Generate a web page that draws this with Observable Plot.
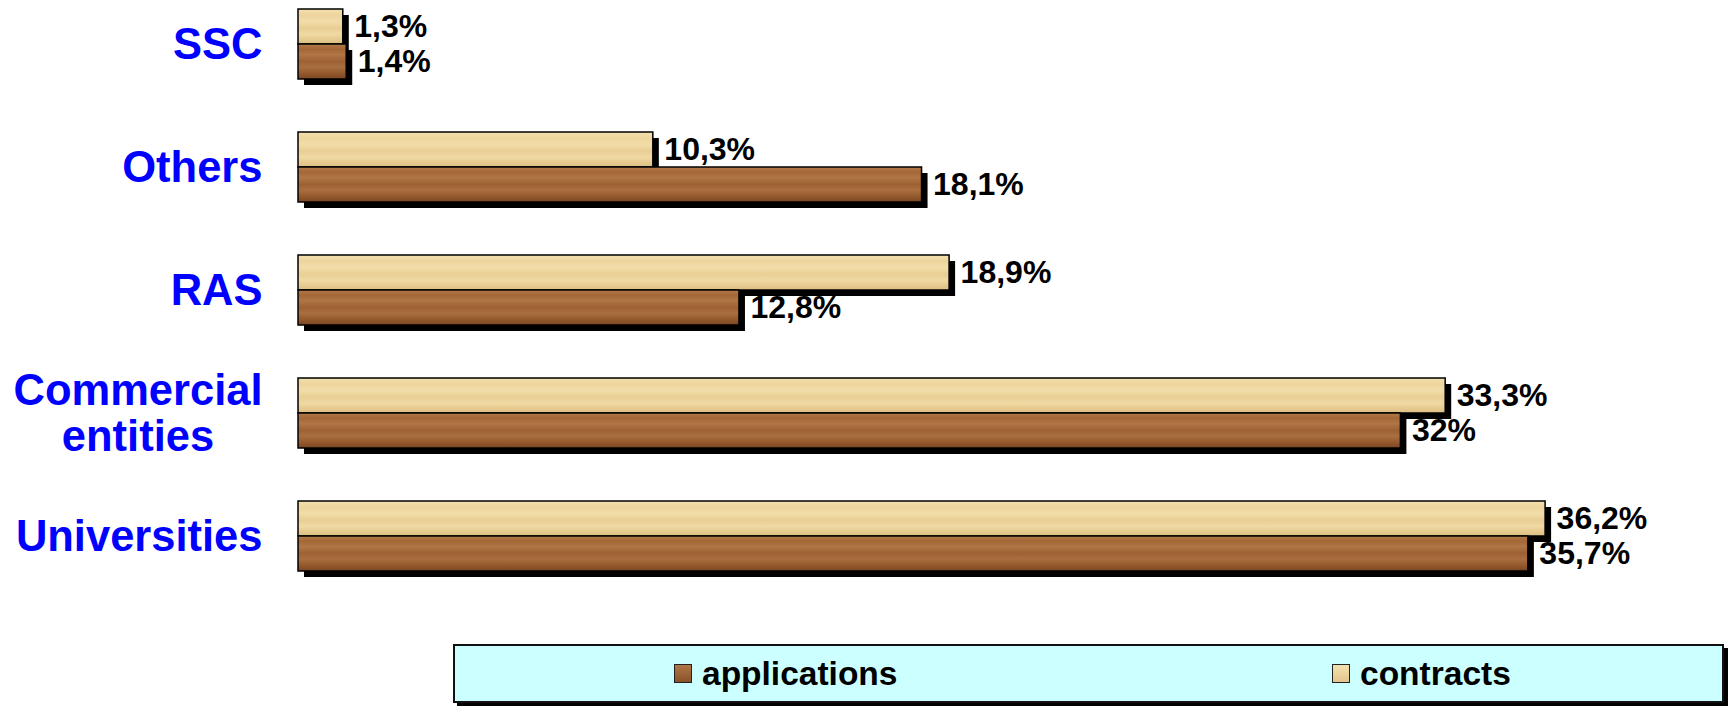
<!DOCTYPE html>
<html><head><meta charset="utf-8">
<script src="https://cdn.jsdelivr.net/npm/d3@7"></script>
<script src="https://cdn.jsdelivr.net/npm/@observablehq/plot@0.6"></script>
<style>
body{margin:0;background:#fff;width:1728px;height:706px;position:relative;overflow:hidden;font-family:"Liberation Sans",Arial,sans-serif;}
#chart{position:absolute;left:0;top:0;}
#legend{position:absolute;left:453px;top:644px;width:1267px;height:55px;background:#CCFFFF;border:2px solid #111;box-shadow:4px 4px 0 #000;}
.item{position:absolute;top:0;height:100%;display:flex;align-items:center;font-weight:bold;font-size:33.5px;color:#000;}
.sw{width:16px;height:17px;border:1.5px solid #222;margin-right:10px;}
</style></head><body>
<div id="chart"></div>
<div id="legend"></div>
<script>
const categories = ["SSC", "Others", "RAS", "Commercial entities", "Universities"];
const categoryLabels = ["SSC", "Others", "RAS", "Commercial\nentities\u00A0\u00A0\u00A0\u00A0", "Universities"];
const contracts = [1.3, 10.3, 18.9, 33.3, 36.2];
const applications = [1.4, 18.1, 12.8, 32, 35.7];
const seriesNames = ["contracts", "applications"];

const rows = categories.flatMap((c, i) => [
  {cat: c, series: "contracts", value: contracts[i]},
  {cat: c, series: "applications", value: applications[i]}
]);
const fmt = v => String(v).replace(".", ",") + "%";

const plot = Plot.plot({
  width: 1728,
  height: 600,
  marginLeft: 298,
  marginRight: 52,
  marginTop: 7,
  marginBottom: 27,
  style: {fontFamily: "Liberation Sans, Arial, sans-serif", background: "transparent"},
  x: {domain: [0, 40], axis: null},
  y: {domain: seriesNames, padding: 0, axis: null},
  fy: {domain: categories, paddingInner: 0.43, paddingOuter: 0, axis: null},
  marks: [
    Plot.barX(rows, {fy: "cat", y: "series", x: "value", fill: "#000", dx: 6, dy: 6}),
    Plot.barX(rows.filter(d => d.series === "contracts"), {fy: "cat", y: "series", x: "value", fill: "url(#woodLight)", stroke: "#000", strokeWidth: 1.5}),
    Plot.barX(rows.filter(d => d.series === "applications"), {fy: "cat", y: "series", x: "value", fill: "url(#woodDark)", stroke: "#000", strokeWidth: 1.5}),
    Plot.text(rows, {fy: "cat", y: "series", x: "value", text: d => fmt(d.value), dx: 11, textAnchor: "start", fontSize: 32, fontWeight: "bold", fill: "#000"}),
    Plot.text(categories, {fy: d => d, text: (d, i) => categoryLabels[i], frameAnchor: "left", dx: -36, textAnchor: "end", fontSize: 43.5, fontWeight: "bold", fill: "#0000FF", lineHeight: 1.05})
  ]
});
const svg = plot.tagName.toLowerCase() === "svg" ? plot : plot.querySelector("svg");
const defs = d3.select(svg).insert("defs", ":first-child");
function grad(id, stops) {
  const g = defs.append("linearGradient").attr("id", id).attr("x1", 0).attr("y1", 0).attr("x2", 0).attr("y2", 1);
  stops.forEach(([o, c]) => g.append("stop").attr("offset", o).attr("stop-color", c));
}
grad("woodLight", [[0, "#F3E1B0"], [0.18, "#EDD49C"], [0.35, "#F2DDA9"], [0.55, "#E9CE94"], [0.72, "#F0D9A4"], [0.87, "#E6CA8E"], [1, "#DCBE84"]]);
grad("woodDark", [[0, "#B47A48"], [0.15, "#A36738"], [0.3, "#B07646"], [0.5, "#9D6134"], [0.66, "#AA6F40"], [0.83, "#955A2D"], [1, "#7A4622"]]);
document.getElementById("chart").appendChild(plot);

const legend = document.getElementById("legend");
[["applications", "linear-gradient(#B07646,#8A5228)", 219], ["contracts", "linear-gradient(#F3E1B0,#E2C58C)", 877]].forEach(([name, bg, left]) => {
  const item = document.createElement("div");
  item.className = "item";
  item.style.left = left + "px";
  const sw = document.createElement("span");
  sw.className = "sw";
  sw.style.background = bg;
  item.appendChild(sw);
  item.appendChild(document.createTextNode(name));
  legend.appendChild(item);
});
</script></body></html>
